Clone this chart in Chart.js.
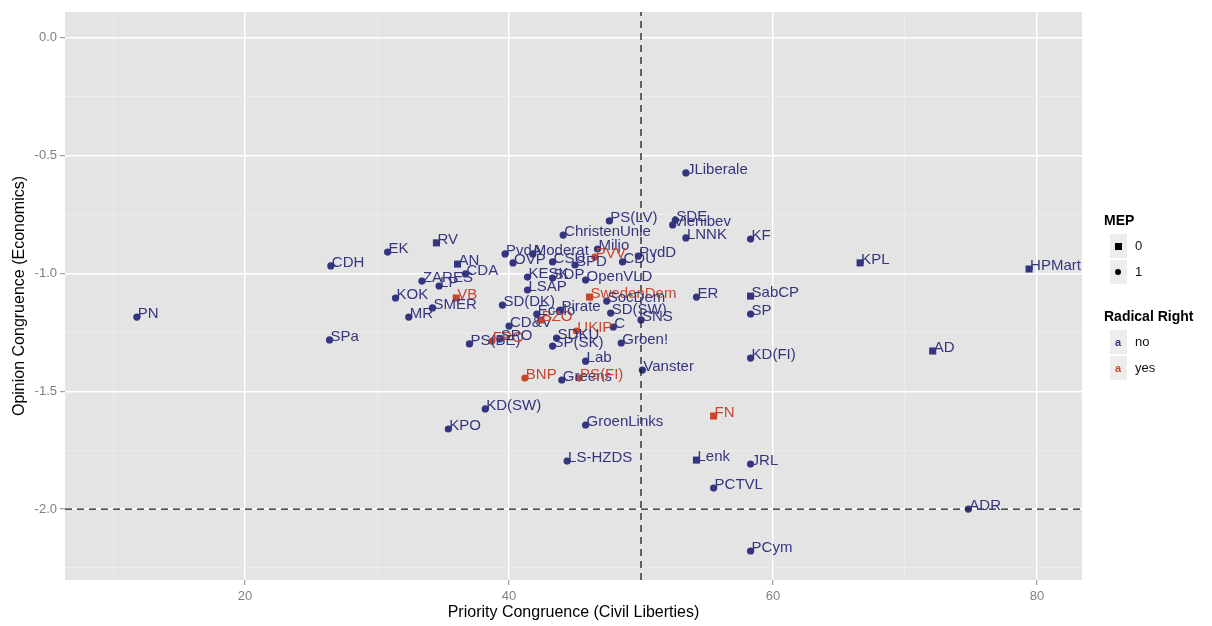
<!DOCTYPE html>
<html>
<head>
<meta charset="utf-8">
<script src="https://cdn.jsdelivr.net/npm/chart.js@4/dist/chart.umd.min.js"></script>
<style>
  body { margin: 0; background: #ffffff; }
  #wrap { position: relative; width: 1212px; height: 626px; font-family: "Liberation Sans", Arial, sans-serif; }
  .tit { position: absolute; font-weight: bold; font-size: 14px; line-height: 16px; color: #000; }
  .caixa { position: absolute; width: 17px; height: 24px; background: #ededed; }
  .txt { position: absolute; font-size: 13px; line-height: 14px; color: #111; }
  .quad { position: absolute; width: 7px; height: 7px; background: #000; }
  .bola { position: absolute; width: 6px; height: 6px; border-radius: 50%; background: #000; }
  .letra { position: absolute; font-size: 11px; font-weight: bold; line-height: 12px; }
</style>
</head>
<body>
<div id="wrap">
  <canvas id="grafico" width="1212" height="626"></canvas>

  <div class="tit" style="left:1104px; top:212px;">MEP</div>
  <div class="caixa" style="left:1110px; top:234px;"></div>
  <div class="quad" style="left:1115px; top:243px;"></div>
  <div class="txt" style="left:1135px; top:239px;">0</div>
  <div class="caixa" style="left:1110px; top:260px;"></div>
  <div class="bola" style="left:1115px; top:269px;"></div>
  <div class="txt" style="left:1135px; top:265px;">1</div>

  <div class="tit" style="left:1104px; top:308px;">Radical Right</div>
  <div class="caixa" style="left:1110px; top:330px;"></div>
  <div class="letra" style="left:1115px; top:336px; color:#34357f;">a</div>
  <div class="txt" style="left:1135px; top:335px;">no</div>
  <div class="caixa" style="left:1110px; top:356px;"></div>
  <div class="letra" style="left:1115px; top:362px; color:#c8462c;">a</div>
  <div class="txt" style="left:1135px; top:361px;">yes</div>
</div>

<script>
// ================= DADOS =================
const partidos = [
  "PN", "CDH", "SPa", "EK", "RV", "AN", "CDA", "ZARES", "LP", "KOK",
  "MR", "SMER", "VB", "PS(BE)", "FPO", "SPO", "CD&V", "SD(DK)", "BZO", "Ecolo",
  "Pirate", "UKIP", "SDKU", "SP(SK)", "C", "SD(SW)", "SNS", "Groen!", "Lab", "Vanster",
  "BNP", "Greens", "PS(FI)", "KD(SW)", "KPO", "GroenLinks", "LS-HZDS", "Lenk", "JRL", "PCTVL",
  "PCym", "FN", "ADR", "AD", "HPMartin", "KPL", "KF", "SabCP", "SP", "KD(FI)",
  "ER", "JLiberale", "SDE", "Vienibev", "LNNK", "PS(LV)", "ChristenUnie", "Miljo", "PvdA", "Moderat",
  "PVV", "PvdD", "OVP", "CSU", "SPD", "CDU", "KESK", "SDP", "OpenVLD", "LSAP",
  "SwedenDem", "SocDem"
];

// Priority Congruence (Civil Liberties)
const prioridade = [
  11.8, 26.5, 26.4, 30.8, 34.5, 36.1, 36.7, 33.4, 34.7, 31.4,
  32.4, 34.2, 36.0, 37.0, 38.7, 39.3, 40.0, 39.5, 42.4, 42.1,
  43.9, 45.1, 43.6, 43.3, 47.9, 47.7, 50.0, 48.5, 45.8, 50.1,
  41.2, 44.0, 45.3, 38.2, 35.4, 45.8, 44.4, 54.2, 58.3, 55.5,
  58.3, 55.5, 74.8, 72.1, 79.4, 66.6, 58.3, 58.3, 58.3, 58.3,
  54.2, 53.4, 52.6, 52.4, 53.4, 47.6, 44.1, 46.7, 39.7, 41.8,
  46.5, 49.8, 40.3, 43.3, 45.0, 48.6, 41.4, 43.3, 45.8, 41.4,
  46.1, 47.4
];

// Opinion Congruence (Economics)
const opiniao = [
  -1.185, -0.968, -1.282, -0.909, -0.870, -0.960, -1.002, -1.032, -1.053, -1.104,
  -1.185, -1.146, -1.104, -1.299, -1.287, -1.278, -1.223, -1.134, -1.197, -1.172,
  -1.155, -1.244, -1.274, -1.308, -1.227, -1.168, -1.197, -1.295, -1.372, -1.410,
  -1.444, -1.452, -1.444, -1.575, -1.660, -1.643, -1.796, -1.792, -1.809, -1.911,
  -2.178, -1.605, -2.000, -1.329, -0.981, -0.955, -0.854, -1.096, -1.172, -1.359,
  -1.100, -0.573, -0.773, -0.794, -0.849, -0.777, -0.837, -0.896, -0.917, -0.917,
  -0.930, -0.926, -0.955, -0.951, -0.964, -0.951, -1.015, -1.019, -1.028, -1.070,
  -1.100, -1.117
];

// MEP: 0 = quadrado, 1 = círculo
const mep = [
  1, 1, 1, 1, 0, 0, 1, 1, 1, 1,
  1, 1, 0, 1, 1, 1, 1, 1, 0, 1,
  1, 1, 1, 1, 1, 1, 1, 1, 1, 1,
  1, 1, 1, 1, 1, 1, 1, 0, 1, 1,
  1, 0, 1, 0, 0, 0, 1, 0, 1, 1,
  1, 1, 1, 1, 1, 1, 1, 1, 1, 1,
  1, 1, 1, 1, 1, 1, 1, 1, 1, 1,
  0, 1
];

// Radical Right: 1 = yes
const direitaRadical = [
  0, 0, 0, 0, 0, 0, 0, 0, 0, 0,
  0, 0, 1, 0, 1, 0, 0, 0, 1, 0,
  0, 1, 0, 0, 0, 0, 0, 0, 0, 0,
  1, 0, 1, 0, 0, 0, 0, 0, 0, 0,
  0, 1, 0, 0, 0, 0, 0, 0, 0, 0,
  0, 0, 0, 0, 0, 0, 0, 0, 0, 0,
  1, 0, 0, 0, 0, 0, 0, 0, 0, 0,
  1, 0
];

// eixos
const X_MIN = 6.36, X_MAX = 83.41;
const Y_MIN = -2.301, Y_MAX = 0.11;
const TICKS_X = [20, 40, 60, 80];
const MINOR_X = [10, 30, 50, 70];
const TICKS_Y = [0, -0.5, -1, -1.5, -2];
const ROTULOS_Y = ["0.0", "-0.5", "-1.0", "-1.5", "-2.0"];
const MINOR_Y = [-0.25, -0.75, -1.25, -1.75, -2.25];

// linhas de referência
const LINHA_X = 50;
const LINHA_Y = -2;

// =================================================

const AZUL = "#34357f";
const VERMELHO = "#c8462c";
const FONTE = '"Liberation Sans", Arial, sans-serif';

// fundo cinza do painel
const fundoPainel = {
  id: "fundoPainel",
  beforeDraw(chart) {
    const { ctx, chartArea: a } = chart;
    ctx.save();
    ctx.fillStyle = "#e4e4e4";
    ctx.fillRect(a.left, a.top, a.right - a.left, a.bottom - a.top);
    ctx.restore();
  }
};

// rótulos de texto dos partidos
const rotulos = {
  id: "rotulos",
  afterDatasetsDraw(chart) {
    const { ctx, chartArea: a, scales } = chart;
    ctx.save();
    ctx.beginPath();
    ctx.rect(a.left, a.top, a.right - a.left, a.bottom - a.top);
    ctx.clip();
    ctx.font = "15px " + FONTE;
    ctx.textAlign = "left";
    ctx.textBaseline = "alphabetic";
    partidos.forEach((p, i) => {
      ctx.fillStyle = direitaRadical[i] ? VERMELHO : AZUL;
      const px = scales.x.getPixelForValue(prioridade[i]);
      const py = scales.y.getPixelForValue(opiniao[i]);
      ctx.fillText(p, px + 1, py + 1);
    });
    ctx.restore();
  }
};

function gradeCor(majors) {
  return c => (c.tick && majors.includes(c.tick.value)) ? "#ffffff" : "#efefef";
}
function gradeLargura(majors) {
  return c => (c.tick && majors.includes(c.tick.value)) ? 1.4 : 0.7;
}
function tickCor(majors) {
  return c => (c.tick && majors.includes(c.tick.value)) ? "#8a8a8a" : "rgba(0,0,0,0)";
}

const pontos = partidos.map((p, i) => ({ x: prioridade[i], y: opiniao[i] }));

const ctx = document.getElementById("grafico").getContext("2d");

new Chart(ctx, {
  type: "scatter",
  data: {
    datasets: [
      {
        data: pontos,
        backgroundColor: c => direitaRadical[c.dataIndex] ? VERMELHO : AZUL,
        borderColor: c => direitaRadical[c.dataIndex] ? VERMELHO : AZUL,
        borderWidth: 0,
        pointStyle: c => mep[c.dataIndex] === 0 ? "rect" : "circle",
        pointRadius: c => mep[c.dataIndex] === 0 ? 5 : 3.6,
        order: 1
      },
      {
        type: "line",
        data: [{ x: X_MIN, y: LINHA_Y }, { x: X_MAX, y: LINHA_Y }],
        borderColor: "#1a1a1a",
        borderWidth: 1.3,
        borderDash: [7, 5],
        pointRadius: 0,
        order: 0
      },
      {
        type: "line",
        data: [{ x: LINHA_X, y: Y_MIN }, { x: LINHA_X, y: Y_MAX }],
        borderColor: "#1a1a1a",
        borderWidth: 1.3,
        borderDash: [7, 5],
        pointRadius: 0,
        order: 0
      }
    ]
  },
  plugins: [fundoPainel, rotulos],
  options: {
    responsive: false,
    animation: false,
    devicePixelRatio: 1,
    layout: { padding: { top: 12, right: 130, left: 0, bottom: 0 } },
    plugins: {
      legend: { display: false },
      tooltip: { enabled: false }
    },
    scales: {
      x: {
        type: "linear",
        min: X_MIN,
        max: X_MAX,
        afterBuildTicks: s => {
          s.ticks = TICKS_X.concat(MINOR_X).sort((a, b) => a - b).map(v => ({ value: v }));
        },
        afterFit: s => { s.height = 46; },
        border: { display: false },
        grid: {
          color: gradeCor(TICKS_X),
          lineWidth: gradeLargura(TICKS_X),
          tickColor: tickCor(TICKS_X),
          tickLength: 5,
          tickWidth: 1
        },
        ticks: {
          autoSkip: false,
          maxRotation: 0,
          padding: 4,
          color: "#7f7f7f",
          font: { family: FONTE, size: 13 },
          callback: v => TICKS_X.includes(v) ? String(v) : ""
        },
        title: {
          display: true,
          text: "Priority Congruence (Civil Liberties)",
          color: "#000000",
          font: { family: FONTE, size: 16 },
          padding: { top: 0, bottom: 4 }
        }
      },
      y: {
        type: "linear",
        min: Y_MIN,
        max: Y_MAX,
        afterBuildTicks: s => {
          s.ticks = TICKS_Y.concat(MINOR_Y).sort((a, b) => a - b).map(v => ({ value: v }));
        },
        afterFit: s => { s.width = 65; },
        border: { display: false },
        grid: {
          color: gradeCor(TICKS_Y),
          lineWidth: gradeLargura(TICKS_Y),
          tickColor: tickCor(TICKS_Y),
          tickLength: 5,
          tickWidth: 1
        },
        ticks: {
          autoSkip: false,
          padding: 3,
          color: "#7f7f7f",
          font: { family: FONTE, size: 13 },
          callback: v => {
            const k = TICKS_Y.indexOf(v);
            return k >= 0 ? ROTULOS_Y[k] : "";
          }
        },
        title: {
          display: true,
          text: "Opinion Congruence (Economics)",
          color: "#000000",
          font: { family: FONTE, size: 16 },
          padding: { top: 10, bottom: 0 }
        }
      }
    }
  }
});
</script>
</body>
</html>
